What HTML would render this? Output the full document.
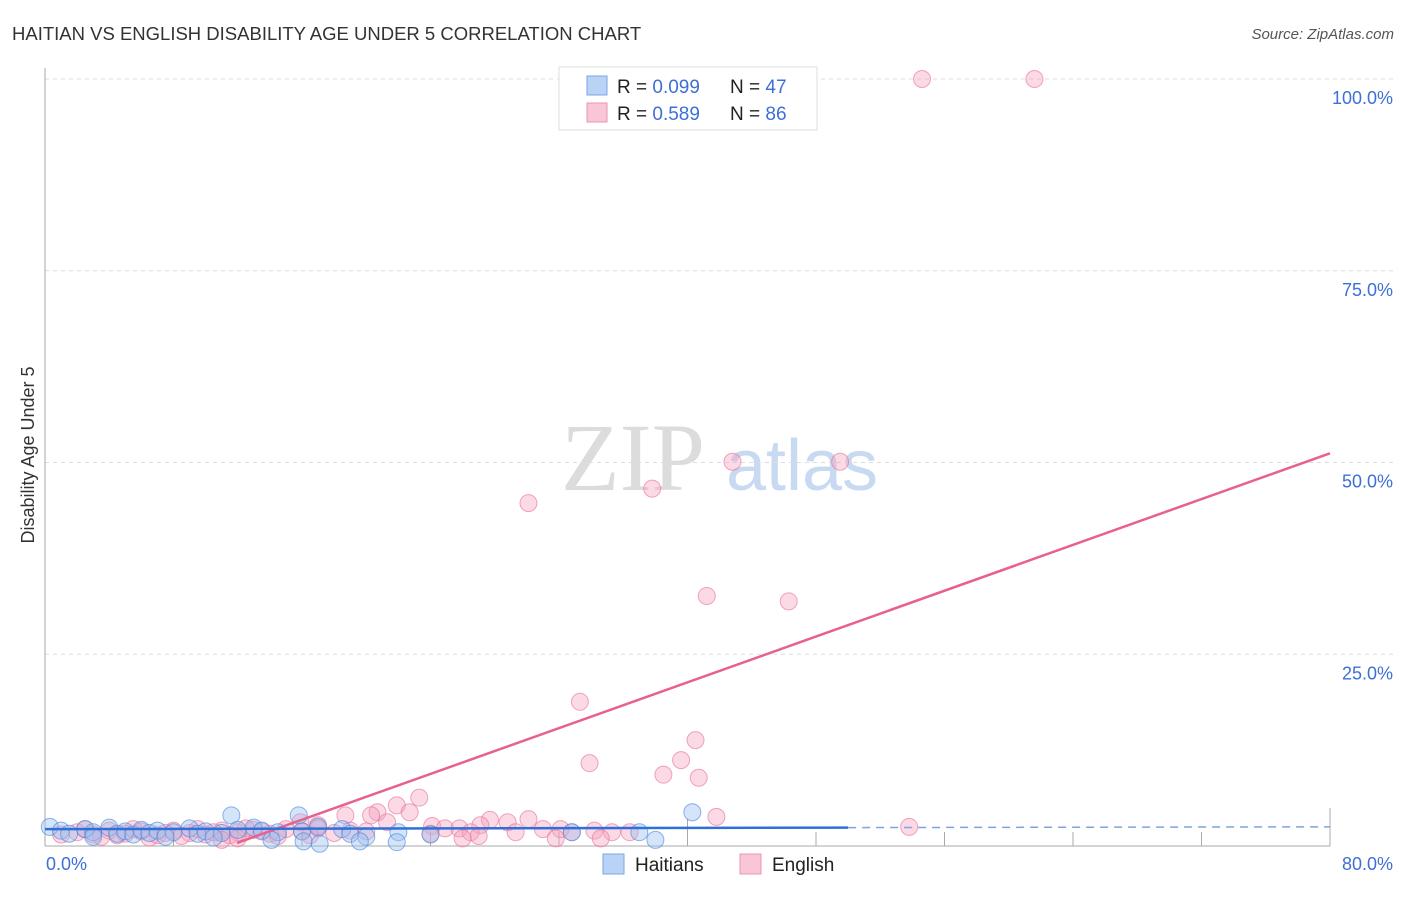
<!DOCTYPE html>
<html><head><meta charset="utf-8"><style>
body{margin:0;background:#fff;font-family:"Liberation Sans",sans-serif;}
svg text{font-family:"Liberation Sans",sans-serif;}
</style></head><body>
<svg width="1406" height="892" xmlns="http://www.w3.org/2000/svg">
<text x="12" y="40" font-size="18.5" fill="#333">HAITIAN VS ENGLISH DISABILITY AGE UNDER 5 CORRELATION CHART</text>
<text x="1394" y="39" font-size="15" fill="#555" font-style="italic" text-anchor="end">Source: ZipAtlas.com</text>
<text x="633" y="490" font-size="96" fill="#dcdcdc" text-anchor="middle" style="font-family:'Liberation Serif',serif">ZIP</text>
<text x="802" y="490" font-size="72" fill="#c8daf2" text-anchor="middle">atlas</text>
<g id="grid"></g>
<g id="axes"></g>
<g id="pts"></g>
<g id="trends"></g>
<text transform="translate(34,455) rotate(-90)" font-size="18" fill="#333" text-anchor="middle">Disability Age Under 5</text>
<text x="46" y="870" font-size="18" fill="#3d6fd6">0.0%</text>
<text x="1393" y="870" font-size="18" fill="#3d6fd6" text-anchor="end">80.0%</text>
<g>
<rect x="559" y="67" width="258" height="63" fill="#fff" stroke="#ddd"/>
<rect x="587" y="76" width="20" height="19" fill="#b9d3f5" stroke="#7aa6e6"/>
<rect x="587" y="103" width="20" height="19" fill="#f8c6d6" stroke="#ee93b0"/>
<text x="617" y="93" font-size="19" fill="#222">R = <tspan fill="#3d6fd6">0.099</tspan><tspan x="730">N = </tspan><tspan fill="#3d6fd6">47</tspan></text>
<text x="617" y="120" font-size="19" fill="#222">R = <tspan fill="#3d6fd6">0.589</tspan><tspan x="730">N = </tspan><tspan fill="#3d6fd6">86</tspan></text>
</g>
<g><rect x="603" y="854" width="21" height="20" fill="#b9d3f5" stroke="#7aa6e6"/><text x="635" y="871" font-size="19" fill="#222">Haitians</text></g>
<g><rect x="740" y="854" width="21" height="20" fill="#f8c6d6" stroke="#ee93b0"/><text x="772" y="871" font-size="19" fill="#222">English</text></g>
</svg>
<script>
const yTicks=[25,50,75,100];
const yTickLabels=["25.0%","50.0%","75.0%","100.0%"];
const xTicks=[0,8,16,24,32,40,48,56,64,72,80];
const engX=[54.6,61.6,42.8,49.5,37.8,30.1,41.2,46.3,33.3,33.9,40.5,39.6,38.5,40.7,53.8,41.8,23.3,21.9,22.7,20.7,20.3,18.7,21.3,15.9,17.0,30.1,27.7,28.8,27.1,24.1,24.9,25.8,26.5,31.0,32.1,32.8,34.2,35.3,36.4,29.3,31.8,34.6,2,3,4,5,6,7,8,9,10,11,12,13,14,15,16,17,18,19,20,3.5,5.5,7.5,8.5,9.5,10.5,11.5,12.5,13.5,14.5,6.5,1,2.5,4.5,16.5,12,11,24,27,26];
const engY=[100,100,50.1,50.1,46.6,44.7,32.6,31.9,18.8,10.8,13.8,11.2,9.3,8.9,2.5,3.8,6.3,5.3,4.4,4.4,4.0,4.0,3.1,3.1,2.7,3.5,3.4,3.1,2.7,2.6,2.3,2.3,1.8,2.2,2.2,1.8,2.0,1.8,1.8,1.8,1.0,1.0,1.8,1.5,2.0,1.6,1.9,1.4,2.0,1.7,1.5,2.0,1.8,2.1,1.6,2.2,1.9,2.3,1.7,2.0,1.9,1.2,2.2,1.7,1.3,2.2,1.8,1.4,2.3,1.9,1.3,1.1,1.5,2.2,1.4,1.4,1.0,0.8,1.6,1.3,1.0];
const haiX=[40.3,11.6,15.8,0.3,1,1.5,2.5,3,4,4.5,5,5.5,6,6.5,7,8,9,9.5,10,11,12,13,13.5,14.5,16,17,18.5,19,20,22,32.8,37,38,14.1,16.1,19.6,21.9,17.1,3,7.5,10.5,24];
const haiY=[4.4,4.0,4.0,2.5,2.0,1.6,2.2,1.8,2.4,1.6,1.9,1.5,2.1,1.7,2.0,1.8,2.3,1.6,1.9,1.7,2.1,2.4,2.0,1.8,1.9,2.5,2.2,1.6,1.2,1.8,1.8,1.8,0.8,0.8,0.6,0.6,0.5,0.3,1.2,1.2,1.1,1.5];
const engTrend=[[11.95,0.4],[80,51.2]];
const haiTrendSolid=[[0,2.2],[50,2.4]];
const haiTrendDash=[[50,2.4],[80,2.5]];
const NS="http://www.w3.org/2000/svg";
const X=v=>45+v*(1285/80), Y=v=>846-v*7.67;
function mk(tag,attrs,parent){const e=document.createElementNS(NS,tag);for(const k in attrs)e.setAttribute(k,attrs[k]);document.getElementById(parent).appendChild(e);return e;}
yTicks.forEach((t,i)=>{
 const l=mk('line',{x1:45,x2:1395,y1:Y(t),y2:Y(t),stroke:'#ddd','stroke-dasharray':'4,4'},'grid');
 
 
 const tx=mk('text',{x:1393,y:Y(t)+25,'font-size':18,fill:'#3d6fd6','text-anchor':'end'},'grid');
 tx.textContent=yTickLabels[i];
 
 
});
let a=mk('line',{x1:45,x2:45,y1:68,y2:846,stroke:'#aaa'},'axes');


a=mk('line',{x1:45,x2:1330,y1:846,y2:846,stroke:'#aaa'},'axes');


xTicks.forEach(t=>{
 const h=(t===40)?27:(t===80?38:14);
 const l=mk('line',{x1:X(t),x2:X(t),y1:846-h,y2:846,stroke:'#aaa'},'axes');
 
 
});
engX.forEach((v,i)=>{
 const c=mk('circle',{cx:X(v),cy:Y(engY[i]),r:8.5,fill:'rgba(244,160,190,0.4)',stroke:'rgba(232,110,150,0.6)','stroke-width':1},'pts');
 
 
});
haiX.forEach((v,i)=>{
 const c=mk('circle',{cx:X(v),cy:Y(haiY[i]),r:8.5,fill:'rgba(150,190,240,0.4)',stroke:'rgba(70,130,220,0.6)','stroke-width':1},'pts');
 
 
});
let t=mk('line',{x1:X(engTrend[0][0]),y1:Y(engTrend[0][1]),x2:X(engTrend[1][0]),y2:Y(engTrend[1][1]),stroke:'#e8608c','stroke-width':2.5},'trends');


t=mk('line',{x1:X(haiTrendSolid[0][0]),y1:Y(haiTrendSolid[0][1]),x2:X(haiTrendSolid[1][0]),y2:Y(haiTrendSolid[1][1]),stroke:'#2f6fd8','stroke-width':2.5},'trends');


t=mk('line',{x1:X(haiTrendDash[0][0]),y1:Y(haiTrendDash[0][1]),x2:X(haiTrendDash[1][0]),y2:Y(haiTrendDash[1][1]),stroke:'#7fa3df','stroke-width':1.5,'stroke-dasharray':'8,6'},'trends');


</script>
</body></html>
